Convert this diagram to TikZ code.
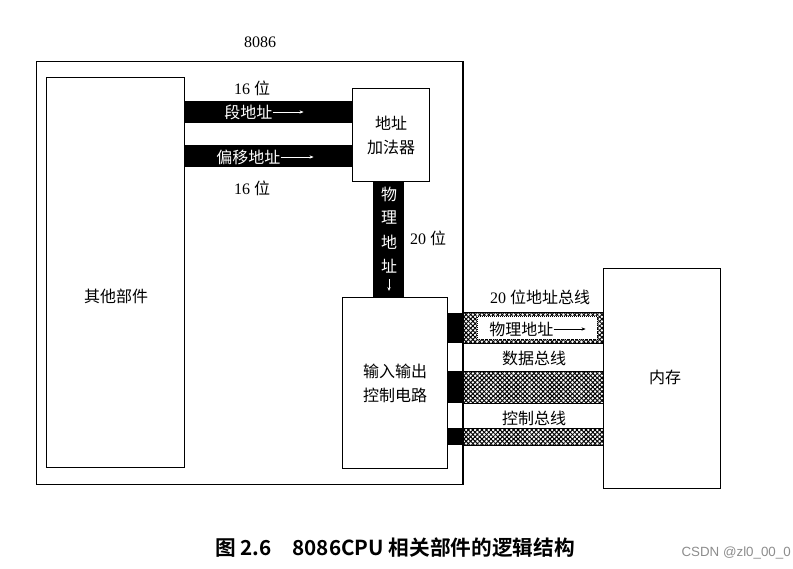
\documentclass[tikz,border=0pt]{standalone}
\usepackage{fontspec}
\setmainfont{Liberation Serif}
\newfontfamily\cjk{Noto Sans CJK SC}
\newfontfamily\capfont{Noto Sans CJK SC Bold}
\usetikzlibrary{patterns.meta,arrows.meta}
\tikzset{
  box/.style={draw, line width=0.9pt, fill=white, inner sep=0pt},
  lbl/.style={font=\fontsize{12}{14}\selectfont, inner sep=0pt},
  wlbl/.style={lbl, text=white},
  bar/.style={fill=black},
  hatch/.style={draw, line width=0.6pt, preaction={fill=white},
    postaction={pattern={Lines[angle=45,distance=2.4pt,line width=0.75pt]}},
    postaction={pattern={Lines[angle=-45,distance=2.4pt,line width=0.75pt]}}},
  warr/.style={draw=white, line width=0.5pt, -{Stealth[length=3pt,width=2.5pt]}},
  barr/.style={draw=black, line width=0.5pt, -{Stealth[length=3pt,width=2.5pt]}}
}
\begin{document}
\begin{tikzpicture}[x=0.75pt,y=-0.75pt]
\useasboundingbox (0,0) rectangle (793,568);
% outer 8086 box
\node[box, minimum width=426*0.75pt, minimum height=423*0.75pt, anchor=north west] (cpu) at (36,61) {};
\node[lbl] (t8086) at (260,42) {8086};
% other parts
\node[box, minimum width=138*0.75pt, minimum height=390*0.75pt, anchor=north west] (other) at (46,77) {};
\node[lbl] (otherl) at (116,296) {\cjk 其他部件};
% address adder
\node[box, minimum width=77*0.75pt, minimum height=93*0.75pt, anchor=north west, align=center, font=\fontsize{12}{18}\selectfont\cjk] (adder) at (352,88) {地址\\加法器};
% io control
\node[box, minimum width=105*0.75pt, minimum height=171*0.75pt, anchor=north west, align=center, font=\fontsize{12}{18}\selectfont\cjk] (io) at (342,297) {输入输出\\控制电路};
% memory
\node[box, minimum width=117*0.75pt, minimum height=220*0.75pt, anchor=north west] (mem) at (603,268) {};
\node[lbl] (meml) at (665,377) {\cjk 内存};
% segment bar
\fill[bar] (184,101) rectangle (352,123);
\node[wlbl, anchor=west] (seg) at (224,112) {\cjk 段地址};
\draw[warr] (seg.east) -- ++(31,0);
% offset bar
\fill[bar] (184,145) rectangle (352,167);
\node[wlbl, anchor=west] (off) at (216,157) {\cjk 偏移地址};
\draw[warr] (off.east) -- ++(33,0);
\node[lbl] (b16a) at (252,88) {16 {\cjk 位}};
\node[lbl] (b16b) at (252,188) {16 {\cjk 位}};
% vertical physical address bar
\fill[bar] (373,181) rectangle (404,297);
\node[wlbl] (p1) at (389,194) {\cjk 物};
\node[wlbl] (p2) at (389,218) {\cjk 理};
\node[wlbl] (p3) at (389,242) {\cjk 地};
\node[wlbl] (p4) at (389,266) {\cjk 址};
\coordinate (pa) at (389,279);
\coordinate (pb) at (389,291);
\draw[warr] (pa) -- (pb);
\node[lbl] (b20) at (428,238) {20 {\cjk 位}};
% stubs
\fill[bar] (447,313) rectangle (462,343);
\fill[bar] (447,371) rectangle (462,403);
\fill[bar] (447,428) rectangle (462,445);
% buses
\path[hatch] (462,312) rectangle (603,343);
\node[draw, densely dotted, line width=0.5pt, fill=white, minimum width=120*0.75pt, minimum height=23*0.75pt, anchor=north west] (pabox) at (477,316) {};
\node[lbl, anchor=west] (padr) at (489,329) {\cjk 物理地址};
\draw[barr] (padr.east) -- ++(32,0);
\path[hatch] (462,371) rectangle (603,403);
\path[hatch] (462,428) rectangle (603,445);
\node[lbl] (abus) at (540,297) {20 {\cjk 位地址总线}};
\node[lbl] (dbus) at (534,358) {\cjk 数据总线};
\node[lbl] (cbus) at (534,418) {\cjk 控制总线};
% re-draw cpu right edge over buses
\draw[line width=0.9pt] (cpu.north east) -- (cpu.south east);
% caption
\node[font=\fontsize{15.5}{18}\selectfont\capfont, inner sep=0pt] (cap) at (395,548) {图 2.6\quad 8086CPU 相关部件的逻辑结构};
\node[font=\fontsize{10}{12}\selectfont\fontspec{Liberation Sans}, text=black!45, inner sep=0pt, anchor=east] (wm) at (791,553) {CSDN @zl0\_00\_0};
\end{tikzpicture}
\end{document}
